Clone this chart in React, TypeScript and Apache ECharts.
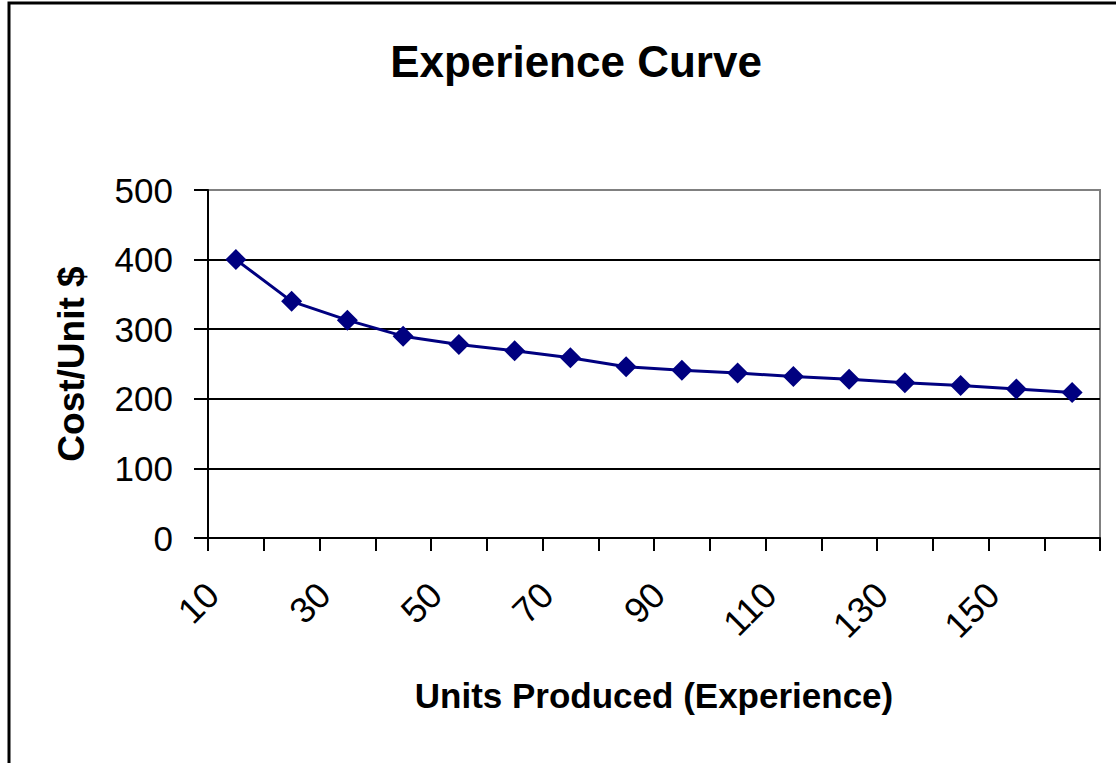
import React, { useEffect, useRef } from "react";
import * as echarts from "echarts";

const categories = ["10", "20", "30", "40", "50", "60", "70", "80", "90", "100", "110", "120", "130", "140", "150", "160"];
const costPerUnit = [400, 340, 313, 290, 278, 269, 259, 246, 241, 237, 232, 228, 223, 219, 214, 209];
const yTicks = { min: 0, max: 500, interval: 100 };
const titleText = "Experience Curve";
const xName = "Units Produced (Experience)";
const yName = "Cost/Unit $";

export default function App() {
  const ref = useRef<HTMLDivElement>(null);
  useEffect(() => {
    document.body.style.margin = "0";
    const chart = echarts.init(ref.current!, null, { renderer: "svg" });
    const font = "'Liberation Sans', Arial, sans-serif";
    chart.setOption({
      animation: false,
      backgroundColor: "#ffffff",
      textStyle: { fontFamily: font },
      title: {
        text: titleText,
        left: 571,
        top: 34,
        textAlign: "center",
        textStyle: { fontFamily: font, fontSize: 44, fontWeight: "bold", color: "#000" },
      },
      graphic: [
        {
          type: "rect",
          shape: { x: 9, y: 3, width: 1300, height: 1000 },
          style: { fill: "none", stroke: "#000", lineWidth: 3 },
          silent: true,
        },
      ],
      grid: {
        left: 208,
        top: 190,
        right: 16,
        bottom: 225,
        show: true,
        borderColor: "#808080",
        borderWidth: 2,
        backgroundColor: "transparent",
        containLabel: false,
        outerBoundsMode: "none",
      },
      xAxis: {
        type: "category",
        data: categories,
        boundaryGap: true,
        name: xName,
        nameLocation: "middle",
        nameGap: 140,
        nameMoveOverlap: false,
        nameTextStyle: { fontFamily: font, fontSize: 35, fontWeight: "bold", color: "#000" },
        axisLine: { show: true, lineStyle: { color: "#000", width: 2 } },
        axisTick: { show: true, interval: 0, alignWithLabel: false, length: 13, lineStyle: { color: "#000", width: 2 } },
        axisLabel: {
          interval: 1,
          rotate: 45,
          margin: 74,
          align: "right",
          verticalAlign: "bottom",
          padding: [0, 0, 15, 0],
          fontFamily: font,
          fontSize: 36,
          color: "#000",
        },
        splitLine: { show: false },
      },
      yAxis: {
        type: "value",
        min: yTicks.min,
        max: yTicks.max,
        interval: yTicks.interval,
        name: yName,
        nameLocation: "middle",
        nameGap: 118,
        nameMoveOverlap: false,
        nameTextStyle: { fontFamily: font, fontSize: 37, fontWeight: "bold", color: "#000" },
        axisLine: { show: true, lineStyle: { color: "#000", width: 2 } },
        axisTick: { show: true, length: 14, lineStyle: { color: "#000", width: 2 } },
        axisLabel: { margin: 35, fontFamily: font, fontSize: 35, color: "#000" },
        splitLine: { show: true, showMaxLine: false, lineStyle: { color: "#000", width: 2 } },
      },
      series: [
        {
          type: "line",
          data: costPerUnit,
          symbol: "diamond",
          symbolSize: 21,
          lineStyle: { color: "#000080", width: 3 },
          itemStyle: { color: "#000080" },
        },
      ],
    });
    return () => chart.dispose();
  }, []);
  return <div ref={ref} style={{ width: 1116, height: 763 }} />;
}
